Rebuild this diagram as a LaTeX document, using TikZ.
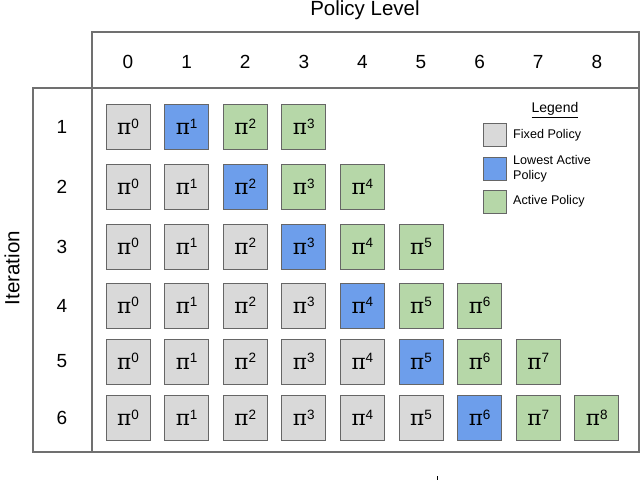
\documentclass[tikz,border=0pt]{standalone}
\usepackage{fontspec}
\setmainfont{Liberation Sans}
\newfontfamily\pifont{DejaVu Serif}
\definecolor{fixedc}{HTML}{D9D9D9}
\definecolor{lowc}{HTML}{6D9EEB}
\definecolor{actc}{HTML}{B6D7A8}
\definecolor{edgec}{HTML}{666666}
\definecolor{framec}{HTML}{707070}
\tikzset{
  cell/.style={draw=edgec, line width=0.9pt, minimum width=44pt, minimum height=45pt, inner sep=0pt},
  fixedcell/.style={cell, fill=fixedc},
  lowcell/.style={cell, fill=lowc},
  actcell/.style={cell, fill=actc},
  legbox/.style={draw=edgec, line width=0.9pt, minimum width=23pt, minimum height=23pt, inner sep=0pt},
  legtext/.style={anchor=west, align=left, font=\fontsize{12.6}{15.5}\selectfont, inner sep=0pt},
  numlabel/.style={font=\fontsize{19}{21}\selectfont, inner sep=0pt},
  titlelabel/.style={font=\fontsize{20.5}{23}\selectfont, inner sep=0pt},
  frame/.style={draw=framec, line width=1.1pt}
}
\newcommand{\pisym}[1]{{\fontsize{21.5}{24}\pifont π}\raisebox{6.5pt}{\fontsize{13.5}{14}\selectfont #1}}
\begin{document}
\begin{tikzpicture}[x=1pt, y=-1pt]
\useasboundingbox (0,0) rectangle (640,480);
% frames
\draw[frame] (92,32) rectangle (639,88);
\draw[frame] (33,88) rectangle (92,452);
\draw[frame] (92,88) rectangle (639,452);
% titles
\node[titlelabel] (title) at (365,10) {Policy Level};
\node[titlelabel, rotate=90] (iter) at (12,268) {Iteration};
% column numbers
\foreach \c in {0,...,8} {
  \node[numlabel] (col\c) at ({128+58.6*\c},62) {\c};
}
% rows
\foreach \r/\y in {1/127,2/187,3/246.5,4/305.5,5/361.5,6/418} {
  \node[numlabel] (row\r) at (62,\y) {\r};
  \pgfmathtruncatemacro{\last}{\r+2}
  \foreach \c in {0,...,\last} {
    \ifnum\c<\r
      \def\sty{fixedcell}
    \else\ifnum\c=\r
      \def\sty{lowcell}
    \else
      \def\sty{actcell}
    \fi\fi
    \node[\sty] (p\r-\c) at ({128+58.6*\c},\y) {\pisym{\c}};
  }
}
% legend
\node[font=\fontsize{14}{16}\selectfont, inner sep=0pt] (legtitle) at (555,110) {\underline{Legend}};
\node[legbox, fill=fixedc] (lg1) at (495,135) {};
\node[legbox, fill=lowc] (lg2) at (495,168.5) {};
\node[legbox, fill=actc] (lg3) at (495,202) {};
\node[legtext] (lt1) at (513,135) {Fixed Policy};
\node[legtext] (lt2) at (513,168.5) {Lowest Active\\Policy};
\node[legtext] (lt3) at (513,201) {Active Policy};
% stray mark at bottom
\coordinate (m1) at (437,476);
\coordinate (m2) at (437,480);
\draw[black, line width=0.6pt] (m1) -- (m2);
\end{tikzpicture}
\end{document}
